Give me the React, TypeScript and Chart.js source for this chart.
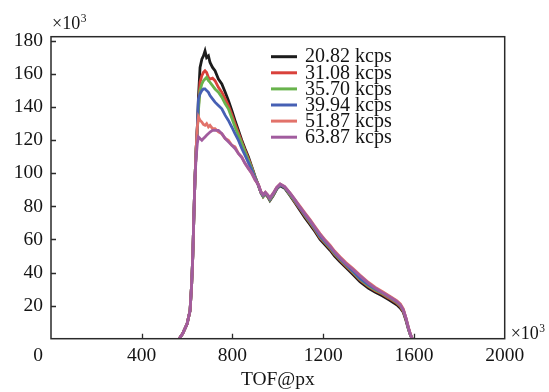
import React, { useEffect, useRef } from "react";
import { Chart, registerables } from "chart.js";

Chart.register(...registerables);

// TOF@px positions (shared by all series)
const tof = [
  565, 580, 600, 613, 620, 625, 630, 635, 640, 645, 650, 657, 665, 672, 679, 686, 694, 701, 712, 723,
  738, 753, 768, 782, 797, 811, 826, 841, 855, 870, 885, 900, 915, 925, 935, 945, 955, 965, 980, 995,
  1010, 1030, 1054, 1076, 1098, 1120, 1142, 1165, 1186, 1210, 1230, 1250, 1274, 1300, 1330, 1362, 1400,
  1430, 1460, 1490, 1524, 1540, 1553, 1565, 1576, 1585, 1592,
];

// counts (×10³)
const s2082 = [
  0, 3, 9, 17, 33, 50, 75, 98, 115, 128, 146, 164, 169, 171, 174, 170, 171, 167, 164, 162,
  157, 154, 149, 144, 138, 132, 126, 120, 115, 110, 104, 98, 92.5, 88.5, 86, 87.5, 86, 83.5, 86.5, 90.5,
  92.5, 91, 86.5, 82, 77.5, 73, 69, 64.5, 60, 56.5, 53.5, 50, 46.5, 43, 39, 34.5, 30.5,
  28, 26, 23.5, 20.5, 18.5, 16, 11, 5.5, 2, 0,
];
const s3108 = [
  0, 3, 9, 17, 33, 50, 75, 98, 115, 127, 140, 155, 159, 161, 162, 161, 158, 157, 157.5, 156,
  152, 149, 145, 141, 135.5, 130, 124.5, 119, 114, 109, 103.5, 97.5, 92.5, 88.5, 86, 88, 86, 84, 87, 91,
  93, 91.5, 87, 82.5, 78.5, 74, 70, 65.5, 61, 57.5, 54.5, 51, 47.5, 44, 40, 35.5, 31.5,
  29, 27, 24.5, 21.5, 19.5, 16.5, 11.5, 6, 2, 0,
];
const s3570 = [
  0, 3, 9, 17, 33, 50, 75, 98, 115, 126, 138, 150, 154, 156, 157, 158, 156, 155, 153, 151,
  149, 146, 142, 139, 133.5, 128, 123, 118, 113, 108, 103, 97.5, 92.5, 88.5, 86, 88, 86.5, 84, 87, 91,
  93, 91.5, 87, 83, 79, 74.5, 70.5, 66, 61.5, 58, 55, 51.5, 48, 44.5, 40.5, 36, 32,
  29.5, 27.5, 25, 22, 20, 17, 12, 6, 2, 0,
];
const s3994 = [
  0, 3, 9, 17, 33, 50, 75, 98, 115, 128, 145, 148, 150, 151, 151, 150, 149, 147, 145, 143,
  141, 139, 135, 132, 128, 124, 120, 115, 111, 106.5, 102, 97, 92.5, 88.5, 86.5, 88, 86.5, 84.5, 87.5, 91,
  93, 91.5, 87.5, 83.5, 79, 75, 71, 66.5, 62, 58.5, 55.5, 52, 48.5, 45, 41, 36.5, 32.5,
  30, 28, 25.5, 22.5, 20.5, 17.5, 12, 6, 2, 0,
];
const s5187 = [
  0, 3, 9, 17, 33, 50, 75, 98, 115, 128, 134, 132, 131, 129.5, 129, 130, 128, 129, 127, 127,
  125, 124, 121, 120, 117, 116, 112, 110, 106, 103, 100, 96, 93, 89, 87, 88.5, 87, 85, 88, 91.5,
  93.5, 92, 88, 84, 80, 76, 72, 67.5, 63.5, 59.5, 56.5, 53, 49.5, 46, 42.5, 38.5, 34,
  31, 28.5, 26, 23, 21, 18, 12.5, 6.5, 2.5, 0,
];
const s6387 = [
  0, 3, 9, 17, 33, 50, 75, 98, 110, 118, 122, 121, 120, 121, 122, 123, 124, 125, 126, 126,
  126, 124, 121, 119, 117, 115, 112, 109.5, 106, 103, 100, 96, 93, 89, 87, 88.5, 87, 85, 88, 91.5,
  93.5, 92, 88, 84, 79.5, 75.5, 71.5, 67, 63, 59, 56, 52.5, 49, 45.5, 42, 38, 33.5,
  30.5, 28, 25.5, 22.5, 20.5, 17.5, 12.5, 6.5, 2.5, 0,
];

const seriesLabels = ["20.82 kcps", "31.08 kcps", "35.70 kcps", "39.94 kcps", "51.87 kcps", "63.87 kcps"];
const seriesValues = [s2082, s3108, s3570, s3994, s5187, s6387];
const seriesColors = ["#1c1c1c", "#d9413b", "#68b34c", "#4660b4", "#e2726a", "#a15c9e"];

const xTicks = [0, 400, 800, 1200, 1600, 2000];
const yTicks = [20, 40, 60, 80, 100, 120, 140, 160, 180];

const SERIF = '"Liberation Serif", "Times New Roman", serif';
const INK = "#141414";

function drawExponent(ctx: any, x: number, y: number) {
  ctx.textAlign = "left";
  ctx.textBaseline = "alphabetic";
  ctx.font = `18px ${SERIF}`;
  ctx.fillText("×10", x, y);
  const w = ctx.measureText("×10").width;
  ctx.font = `11.5px ${SERIF}`;
  ctx.fillText("3", x + w + 0.5, y - 6.5);
}

const decor = {
  id: "decor",
  afterDatasetsDraw(chart: any) {
    const { ctx, chartArea: a, scales } = chart;
    ctx.save();
    // frame
    ctx.strokeStyle = "#2a2a2a";
    ctx.lineWidth = 1.5;
    ctx.strokeRect(a.left, a.top, a.right - a.left, a.bottom - a.top);
    // inward ticks
    ctx.lineWidth = 1.3;
    ctx.beginPath();
    yTicks.forEach((v) => {
      const y = Math.round(scales.y.getPixelForValue(v)) + 0.5;
      ctx.moveTo(a.left, y);
      ctx.lineTo(a.left + 5, y);
    });
    xTicks.forEach((v) => {
      if (v === 0 || v === 2000) return;
      const x = Math.round(scales.x.getPixelForValue(v)) + 0.5;
      ctx.moveTo(x, a.bottom);
      ctx.lineTo(x, a.bottom - 5);
    });
    ctx.stroke();

    // legend
    const lx = a.left + 220;
    const ly = a.top + 20;
    const step = 16.1;
    ctx.font = `20px ${SERIF}`;
    ctx.textAlign = "left";
    ctx.textBaseline = "middle";
    seriesLabels.forEach((lab, i) => {
      const y = ly + i * step;
      ctx.strokeStyle = seriesColors[i];
      ctx.lineWidth = 3;
      ctx.beginPath();
      ctx.moveTo(lx, y);
      ctx.lineTo(lx + 26, y);
      ctx.stroke();
      ctx.fillStyle = INK;
      ctx.fillText(lab, lx + 34, y + 0.5);
    });

    // origin label and exponents
    ctx.fillStyle = INK;
    ctx.font = `19.5px ${SERIF}`;
    ctx.textAlign = "center";
    ctx.fillText("0", a.left - 13, a.bottom + 17);
    drawExponent(ctx, a.left + 1, a.top - 8);
    drawExponent(ctx, a.right + 6, a.bottom);
    ctx.restore();
  },
};

export default function App() {
  const ref = useRef<HTMLCanvasElement | null>(null);

  useEffect(() => {
    document.body.style.margin = "0";
    const canvas = ref.current;
    if (!canvas) return;
    const font = { family: SERIF, size: 19.5 };
    const datasets = seriesValues.map((vals, i) => ({
      label: seriesLabels[i],
      data: vals.map((v, j) => ({ x: tof[j], y: v })),
      borderColor: seriesColors[i],
      backgroundColor: seriesColors[i],
      borderWidth: 2.8,
      pointRadius: 0,
      tension: 0,
      fill: false,
      order: seriesLabels.length - i,
    }));
    const chart = new Chart(canvas, {
      type: "line",
      data: { datasets },
      options: {
        responsive: false,
        animation: false,
        devicePixelRatio: 1,
        layout: { padding: { top: 36.7, right: 44.3, left: 0, bottom: 0 } },
        plugins: { legend: { display: false }, tooltip: { enabled: false } },
        scales: {
          x: {
            type: "linear",
            min: 0,
            max: 2000,
            afterBuildTicks: (s: any) => {
              s.ticks = xTicks.map((v) => ({ value: v }));
            },
            afterFit: (s: any) => {
              s.height = 53.3;
            },
            grid: { display: false, drawTicks: false },
            border: { display: false },
            ticks: {
              autoSkip: false,
              maxRotation: 0,
              padding: 5,
              color: INK,
              font,
              callback: (v: any) => (v === 0 ? "" : String(v)),
            },
            title: { display: true, text: "TOF@px", color: INK, font, padding: 0 },
          },
          y: {
            type: "linear",
            min: 0,
            max: 182.6,
            afterBuildTicks: (s: any) => {
              s.ticks = yTicks.map((v) => ({ value: v }));
            },
            afterFit: (s: any) => {
              s.width = 51;
            },
            grid: { display: false, drawTicks: false },
            border: { display: false },
            ticks: { padding: 8, color: INK, font, callback: (v: any) => String(v) },
          },
        },
      },
      plugins: [decor],
    });
    return () => chart.destroy();
  }, []);

  return (
    <div style={{ position: "absolute", left: 0, top: 0, width: 549, height: 392, background: "#fff" }}>
      <canvas ref={ref} width={549} height={392} style={{ display: "block" }} />
    </div>
  );
}
